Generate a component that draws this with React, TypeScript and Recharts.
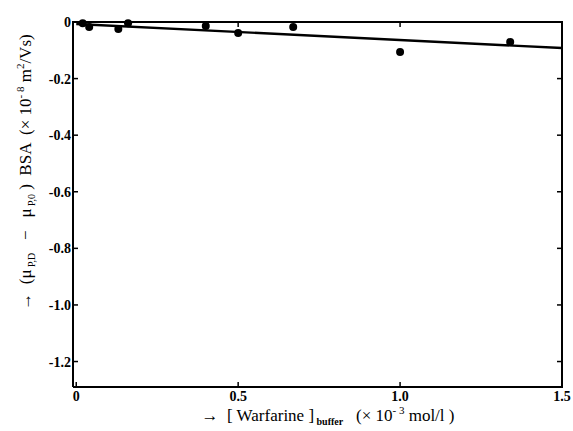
import { ComposedChart, XAxis, YAxis, Line, Scatter } from "recharts";

// measured points: warfarine concentration (x 10^-3 mol/l) vs mobility difference (x 10^-8 m2/Vs)
const warfarine = [0.02, 0.04, 0.13, 0.16, 0.4, 0.5, 0.67, 1.0, 1.34];
const mobilityDiff = [-0.004, -0.018, -0.025, -0.004, -0.014, -0.039, -0.018, -0.106, -0.071];

// fitted straight line
const fitX = [0, 1.5];
const fitY = [-0.007, -0.092];

const xTicks = [0, 0.5, 1.0, 1.5];
const yTicks = [0, -0.2, -0.4, -0.6, -0.8, -1.0, -1.2];

const xDomain = [-0.01, 1.5];
const yDomain = [-1.29, 0];

const points = warfarine.map((x, i) => ({ x, y: mobilityDiff[i] }));
const fitLine = fitX.map((x, i) => ({ x, y: fitY[i] }));

// chart layout, shared by the chart and the frame overlay
const W = 573;
const H = 431;
const margin = { top: 22, right: 11, bottom: 0, left: 0 };
const yAxisW = 73;
const xAxisH = 44;
const plot = {
  left: margin.left + yAxisW,
  top: margin.top,
  width: W - margin.left - yAxisW - margin.right,
  height: H - margin.top - xAxisH - margin.bottom,
};

const serif = "'Liberation Serif', 'Times New Roman', serif";
const axisStroke = { stroke: "#000", strokeWidth: 2 };
const pre = { whiteSpace: "pre" as const };

const fmt = (v: number) => (v === 0 ? "0" : v.toFixed(1));

// tick labels are bold serif in the original
const XTick = ({ x, y, payload }: any) => (
  <text x={x} y={y} dy={11} textAnchor="middle" fontFamily={serif} fontWeight="bold" fontSize={14} fill="#000">
    {fmt(payload.value)}
  </text>
);

const YTick = ({ x, y, payload }: any) => (
  <text x={x} y={y} dy={5} textAnchor="end" fontFamily={serif} fontWeight="bold" fontSize={14} fill="#000">
    {fmt(payload.value)}
  </text>
);

const XTitle = () => (
  <text x={328} y={421} textAnchor="middle" fontFamily={serif} fontSize={17} fill="#000" style={pre}>
    <tspan>{"→  [ Warfarine ]"}</tspan>
    <tspan dy={4} fontSize={10} fontWeight="bold">{" buffer"}</tspan>
    <tspan dy={-4}>{"   (× 10"}</tspan>
    <tspan dy={-7} fontSize={11}>{"- 3"}</tspan>
    <tspan dy={7}>{" mol/l )"}</tspan>
  </text>
);

const YTitle = () => (
  <text
    x={0}
    y={0}
    transform="translate(31 172) rotate(-90)"
    textAnchor="middle"
    fontFamily={serif}
    fontSize={17}
    fill="#000"
    style={pre}
  >
    <tspan>{"→  (μ"}</tspan>
    <tspan dy={4} fontSize={10}>{" P,D"}</tspan>
    <tspan dy={-4}>{"   −   μ"}</tspan>
    <tspan dy={4} fontSize={10}>{" P,0"}</tspan>
    <tspan dy={-4}>{" )  BSA  (× 10"}</tspan>
    <tspan dy={-7} fontSize={11}>{"- 8"}</tspan>
    <tspan dy={7}>{" m"}</tspan>
    <tspan dy={-7} fontSize={11}>2</tspan>
    <tspan dy={7}>/Vs)</tspan>
  </text>
);

// top and right edges of the box with their short inward ticks
const Frame = () => {
  const px = (v: number) => plot.left + ((v - xDomain[0]) / (xDomain[1] - xDomain[0])) * plot.width;
  const py = (v: number) => plot.top + ((yDomain[1] - v) / (yDomain[1] - yDomain[0])) * plot.height;
  const right = plot.left + plot.width;
  const bottom = plot.top + plot.height;
  return (
    <svg
      width={W}
      height={H}
      style={{ position: "absolute", left: 0, top: 0, pointerEvents: "none" }}
    >
      <g stroke="#000" strokeWidth={2} strokeLinecap="square">
        <line x1={plot.left} x2={right} y1={plot.top} y2={plot.top} />
        <line x1={right} x2={right} y1={plot.top} y2={bottom} />
      </g>
      <g stroke="#000" strokeWidth={1.5}>
        {xTicks.slice(1, -1).map((t) => (
          <line key={"tx" + t} x1={px(t)} x2={px(t)} y1={plot.top} y2={plot.top + 5} />
        ))}
        {yTicks.slice(1).map((t) => (
          <line key={"ty" + t} x1={right} x2={right - 5} y1={py(t)} y2={py(t)} />
        ))}
      </g>
    </svg>
  );
};

export default function App() {
  return (
    <div style={{ position: "absolute", left: 0, top: 0, width: W, height: H, background: "#fff" }}>
      <ComposedChart width={W} height={H} margin={margin}>
        <XAxis
          type="number"
          dataKey="x"
          domain={xDomain}
          ticks={xTicks}
          height={xAxisH}
          tick={<XTick />}
          tickSize={-5}
          tickMargin={8}
          axisLine={axisStroke}
          tickLine={{ stroke: "#000", strokeWidth: 1.5 }}
          label={<XTitle />}
        />
        <YAxis
          type="number"
          dataKey="y"
          domain={yDomain}
          ticks={yTicks}
          width={yAxisW}
          tick={<YTick />}
          tickSize={-5}
          tickMargin={7}
          axisLine={axisStroke}
          tickLine={{ stroke: "#000", strokeWidth: 1.5 }}
          label={<YTitle />}
        />
        <Line
          data={fitLine}
          dataKey="y"
          stroke="#000"
          strokeWidth={2.4}
          dot={false}
          activeDot={false}
          isAnimationActive={false}
        />
        <Scatter
          data={points}
          dataKey="y"
          fill="#000"
          shape={(p: any) => <circle cx={p.cx} cy={p.cy} r={4} fill="#000" />}
          isAnimationActive={false}
        />
      </ComposedChart>
      <Frame />
    </div>
  );
}
